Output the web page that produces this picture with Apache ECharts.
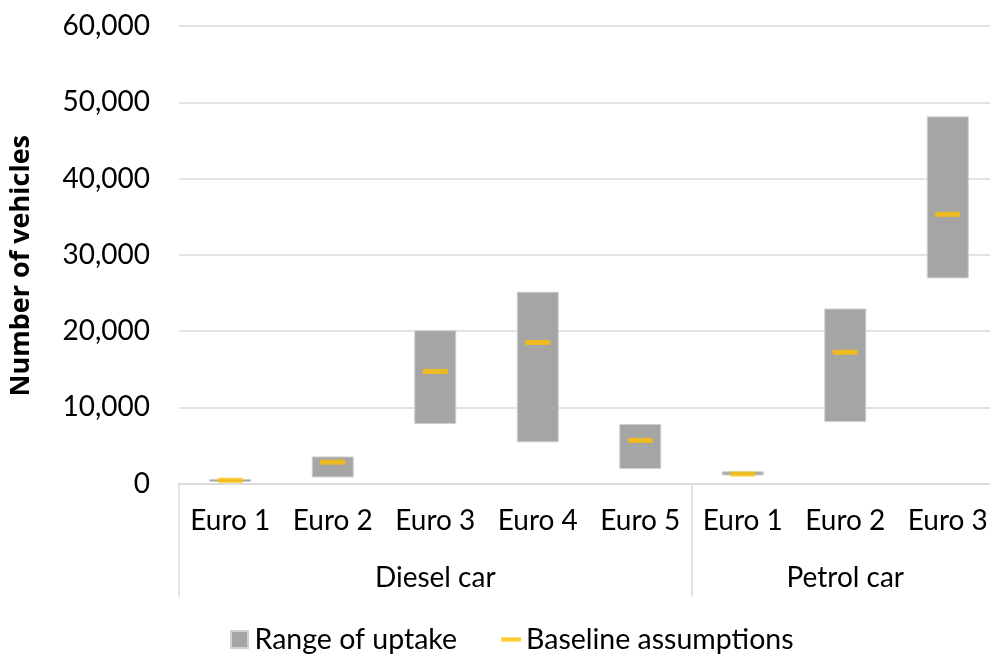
<!DOCTYPE html>
<html>
<head>
<meta charset="utf-8">
<script src="https://cdn.jsdelivr.net/npm/echarts@6/dist/echarts.min.js"></script>
<style>html,body{margin:0;padding:0;background:#fff}#c{width:990px;height:654px}</style>
</head>
<body>
<div id="c"></div>
<script>
const categories = ['Euro 1','Euro 2','Euro 3','Euro 4','Euro 5','Euro 1','Euro 2','Euro 3'];
const groups = ['Diesel car','Petrol car'];
const groupSizes = [5, 3];
const rangeLow = [200, 800, 7800, 5400, 1900, 1050, 8050, 26900];
const rangeHigh = [600, 3550, 20100, 25150, 7800, 1600, 22950, 48150];
const baseline = [420, 2800, 14700, 18500, 5650, 1250, 17200, 35300];
const yTicks = [0, 10000, 20000, 30000, 40000, 50000, 60000];

const FONT = 'Lato';
const rangeSpan = rangeHigh.map((h, i) => h - rangeLow[i]);

// group boundaries and centers on a 0..N value scale aligned with the category axis
const bounds = [0];
groupSizes.forEach(s => bounds.push(bounds[bounds.length - 1] + s));
const centers = groups.map((g, i) => (bounds[i] + bounds[i + 1]) / 2);
const total = bounds[bounds.length - 1];

const chart = echarts.init(document.getElementById('c'), null, {renderer: 'canvas'});
chart.setOption({
  animation: false,
  textStyle: {fontFamily: FONT},
  grid: {left: 179, width: 820, top: 26, height: 457.5, containLabel: false, outerBoundsMode: 'none'},
  legend: {
    left: 225, top: 620,
    itemWidth: 20, itemHeight: 17, itemGap: 44,
    textStyle: {fontFamily: FONT, fontSize: 28.5, color: '#000'},
    data: [
      {name: 'Range of uptake', icon: 'path://M0,0h17v17h-17z'},
      {name: 'Baseline assumptions', icon: 'path://M0,0h19v4h-19z'}
    ]
  },
  xAxis: [
    {
      type: 'category', data: categories, position: 'bottom',
      axisLine: {show: true, lineStyle: {color: '#d9d9d9', width: 1.5}},
      axisTick: {show: false},
      axisLabel: {color: '#000', fontFamily: FONT, fontSize: 28, margin: 23, interval: 0}
    },
    {
      type: 'value', min: 0, max: total, position: 'bottom',
      axisLine: {show: false},
      splitLine: {show: false},
      axisTick: {show: true, customValues: bounds, length: 113, lineStyle: {color: '#d9d9d9', width: 1.5}},
      axisLabel: {
        show: true, customValues: centers, color: '#000', fontFamily: FONT, fontSize: 28, margin: 80,
        formatter: v => { const i = centers.indexOf(v); return i >= 0 ? groups[i] : ''; }
      }
    }
  ],
  yAxis: {
    type: 'value', min: yTicks[0], max: yTicks[yTicks.length - 1], interval: yTicks[1] - yTicks[0],
    name: 'Number of vehicles', nameLocation: 'middle', nameGap: 144,
    nameTextStyle: {fontFamily: 'Open Sans', fontSize: 27, fontWeight: 'bold', color: '#000', padding: [0, 0, 0, -22]},
    axisLine: {show: false}, axisTick: {show: false},
    axisLabel: {color: '#000', fontFamily: FONT, fontSize: 28, margin: 29,
      formatter: v => v.toLocaleString('en-US')},
    splitLine: {lineStyle: {color: '#d9d9d9', width: 1.5}}
  },
  series: [
    {
      name: 'base', type: 'bar', stack: 'r', data: rangeLow, barWidth: '41%',
      itemStyle: {color: 'transparent'}, silent: true, legendHoverLink: false
    },
    {
      name: 'Range of uptake', type: 'bar', stack: 'r', data: rangeSpan, barWidth: '41%',
      itemStyle: {color: '#a5a5a5', borderColor: '#d0d0d0', borderWidth: 1}
    },
    {
      name: 'Baseline assumptions', type: 'scatter', data: baseline,
      symbol: 'rect', symbolSize: [25, 5], itemStyle: {color: '#ffc000'}, z: 5
    }
  ]
});
</script>
</body>
</html>
